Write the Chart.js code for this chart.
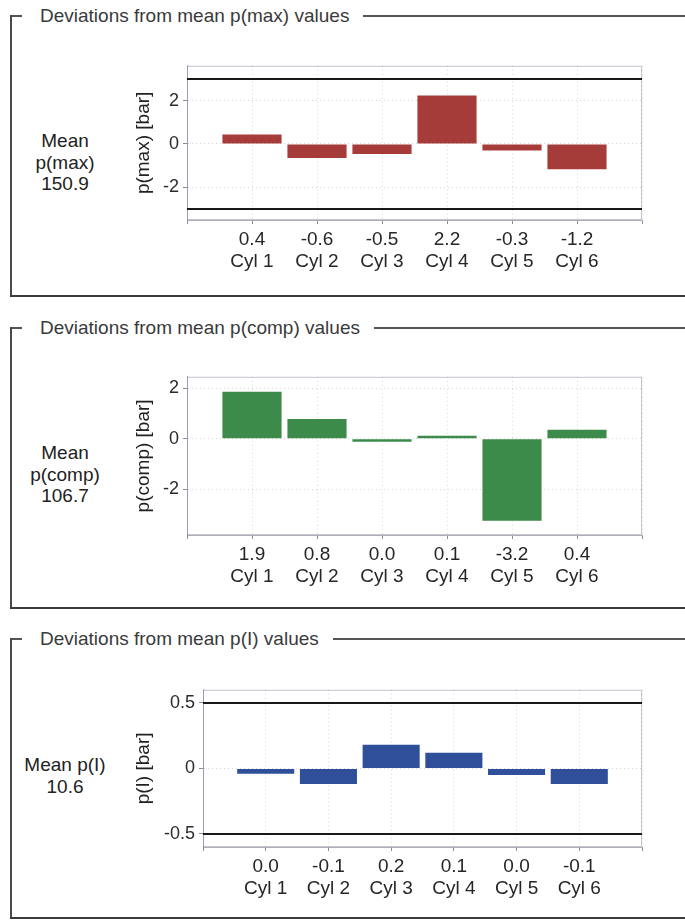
<!DOCTYPE html>
<html>
<head>
<meta charset="utf-8">
<script src="https://cdn.jsdelivr.net/npm/chart.js@4.4.1/dist/chart.umd.min.js"></script>
<style>
  html, body { margin: 0; padding: 0; background: #fff; }
  body { width: 685px; height: 920px; position: relative; overflow: hidden;
         font-family: 'Liberation Sans', Arial, sans-serif; color: #2b2b2b; }
  .vline { position: absolute; left: 10px; width: 2px; background: #4a4a4a; }
  .hline { position: absolute; left: 10px; right: 0; height: 2px; background: #3c3c3c; }
  .topline { position: absolute; left: 10px; right: 0; height: 1.5px; background: #555; }
  .title { position: absolute; left: 22px; padding: 0 14px 0 18px; background: #fff;
           font-size: 19px; line-height: 22px; color: #3a3a3a; white-space: nowrap; }
  .mean { position: absolute; left: 0; width: 130px; text-align: center;
          font-size: 19px; line-height: 21.5px; color: #222; }
  canvas { position: absolute; left: 120px; }
</style>
</head>
<body>

<!-- panel 1 -->
<div class="topline" style="top:15px"></div>
<div class="title" style="top:5px">Deviations from mean p(max) values</div>
<div class="vline" style="top:15px;height:281px"></div>
<div class="hline" style="top:295px"></div>
<div class="mean" style="top:130px">Mean<br>p(max)<br>150.9</div>
<canvas id="cMax" width="540" height="242" style="top:51px"></canvas>

<!-- panel 2 -->
<div class="topline" style="top:327px"></div>
<div class="title" style="top:317px">Deviations from mean p(comp) values</div>
<div class="vline" style="top:327px;height:281px"></div>
<div class="hline" style="top:607px"></div>
<div class="mean" style="top:442px">Mean<br>p(comp)<br>106.7</div>
<canvas id="cComp" width="540" height="246" style="top:362px"></canvas>

<!-- panel 3 -->
<div class="topline" style="top:638px"></div>
<div class="title" style="top:628px">Deviations from mean p(I) values</div>
<div class="vline" style="top:638px;height:281px"></div>
<div class="hline" style="top:917px"></div>
<div class="mean" style="top:754px">Mean p(I)<br>10.6</div>
<canvas id="cInd" width="540" height="245" style="top:675px"></canvas>

<script>
// Cylinder names along the x axis
const cylinders = ['Cyl 1', 'Cyl 2', 'Cyl 3', 'Cyl 4', 'Cyl 5', 'Cyl 6'];

// Deviations from the engine mean, in bar
const pmaxDev  = [0.44, -0.64, -0.46, 2.23, -0.30, -1.16];
const pcompDev = [1.86, 0.78, -0.04, 0.08, -3.24, 0.36];
const piDev    = [-0.04, -0.12, 0.18, 0.12, -0.05, -0.12];

// Y tick values
const pmaxTicks  = [-2, 0, 2];
const pcompTicks = [-2, 0, 2];
const piTicks    = [-0.5, 0, 0.5];

// Alarm limits (drawn as black lines)
const pmaxLimits  = [3, -3];
const pcompLimits = [];
const piLimits    = [0.5, -0.5];

// Visible value ranges of each plot
const pmaxRange  = [-3.5, 3.6];
const pcompRange = [-3.8, 2.45];
const piRange    = [-0.6, 0.6];

Chart.defaults.font.family = "'Liberation Sans', Arial, sans-serif";
Chart.defaults.font.size = 18;
Chart.defaults.color = '#2b2b2b';

function fmt1(v) {
  const r = Math.round(v * 10) / 10;
  return (r === 0 ? 0 : r).toFixed(1);
}

// plot box outline and horizontal limit lines
const plotDecor = {
  id: 'plotDecor',
  beforeDatasetsDraw(chart, args, opts) {
    const { ctx, chartArea: a } = chart;
    ctx.save();
    ctx.strokeStyle = 'rgba(150,150,170,0.55)';
    ctx.lineWidth = 1;
    ctx.strokeRect(a.left + 0.5, a.top + 0.5, a.width - 1, a.height - 1);
    ctx.restore();
  },
  afterDatasetsDraw(chart, args, opts) {
    const { ctx, chartArea: a } = chart;
    const ys = chart.scales.y;
    ctx.save();
    ctx.strokeStyle = '#181818';
    ctx.lineWidth = 2;
    (opts.limits || []).forEach(v => {
      const py = Math.round(ys.getPixelForValue(v));
      ctx.beginPath();
      ctx.moveTo(a.left, py);
      ctx.lineTo(a.right, py);
      ctx.stroke();
    });
    ctx.restore();
  }
};

function makeChart(id, values, color, yTitle, yTicks, range, limits, yWidth) {
  const points = values.map((v, i) => ({ x: i + 1, y: v }));
  return new Chart(document.getElementById(id), {
    type: 'bar',
    data: {
      datasets: [{
        data: points,
        backgroundColor: color,
        borderWidth: 0,
        minBarLength: 3,
        barPercentage: 0.91,
        categoryPercentage: 1.0
      }]
    },
    options: {
      responsive: false,
      animation: false,
      devicePixelRatio: 1,
      layout: { padding: { left: 12, top: 12, right: 18, bottom: 0 } },
      plugins: {
        legend: { display: false },
        tooltip: { enabled: false },
        plotDecor: { limits: limits }
      },
      scales: {
        x: {
          type: 'linear',
          min: 0,
          max: cylinders.length + 1,
          offset: false,
          grid: {
            offset: false,
            color: 'rgba(0,0,0,0.16)',
            drawTicks: true,
            tickLength: 4,
            tickColor: 'rgba(90,90,110,0.7)',
            tickBorderDash: []
          },
          border: { display: true, color: 'rgba(120,120,140,0.6)', dash: [1, 3] },
          ticks: {
            stepSize: 1,
            autoSkip: false,
            maxRotation: 0,
            padding: 5,
            color: '#262626',
            font: { size: 19, lineHeight: 1.15 },
            callback: (value) => {
              const i = value - 1;
              if (i < 0 || i >= cylinders.length) return '';
              return [fmt1(values[i]), cylinders[i]];
            }
          },
          afterFit: (scale) => { scale.height = 73; }
        },
        y: {
          min: range[0],
          max: range[1],
          grid: {
            color: 'rgba(0,0,0,0.16)',
            drawTicks: true,
            tickLength: 4,
            tickColor: 'rgba(90,90,110,0.7)',
            tickBorderDash: []
          },
          border: { display: true, color: 'rgba(110,110,160,0.6)', dash: [1, 3] },
          ticks: {
            padding: 4,
            color: '#2b2b2b',
            font: { size: 18 },
            callback: (v) => String(v)
          },
          afterBuildTicks: (scale) => { scale.ticks = yTicks.map(v => ({ value: v })); },
          title: {
            display: true,
            text: yTitle,
            color: '#222',
            font: { size: 19, lineHeight: 1.2 },
            padding: { top: 0, bottom: 0 }
          },
          afterFit: (scale) => { scale.width = yWidth; }
        }
      }
    },
    plugins: [plotDecor]
  });
}

makeChart('cMax',  pmaxDev,  '#a63c3a', 'p(max) [bar]',  pmaxTicks,  pmaxRange,  pmaxLimits,  55);
makeChart('cComp', pcompDev, '#3d8b4a', 'p(comp) [bar]', pcompTicks, pcompRange, pcompLimits, 55);
makeChart('cInd',  piDev,    '#2f4f9a', 'p(I) [bar]',    piTicks,    piRange,    piLimits,    71);
</script>
</body>
</html>
